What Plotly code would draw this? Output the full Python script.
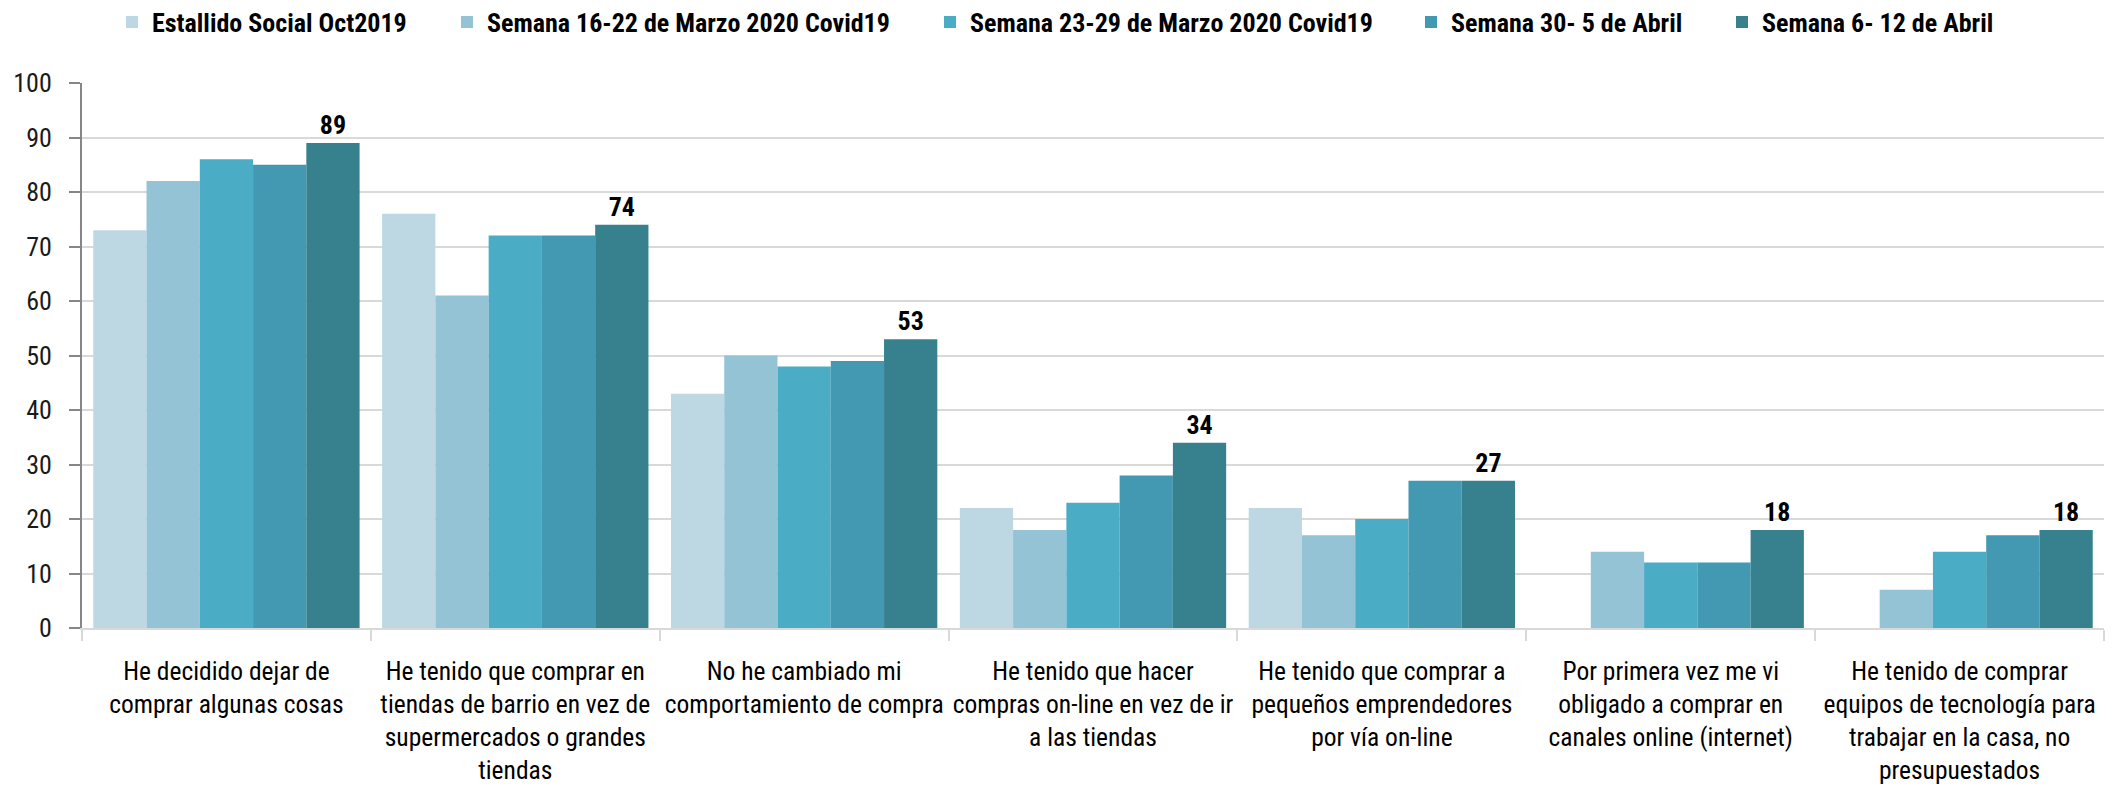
import plotly.graph_objects as go

categories = [
    "He decidido dejar de<br>comprar algunas cosas",
    "He tenido que comprar en<br>tiendas de barrio en vez de<br>supermercados o grandes<br>tiendas",
    "No he cambiado mi<br>comportamiento de compra",
    "He tenido que hacer<br>compras on-line en vez de ir<br>a las tiendas",
    "He tenido que comprar a<br>pequeños emprendedores<br>por vía on-line",
    "Por primera vez me vi<br>obligado a comprar en<br>canales online (internet)",
    "He tenido de comprar<br>equipos de tecnología para<br>trabajar en la casa, no<br>presupuestados",
]

series_names = [
    "Estallido Social Oct2019",
    "Semana 16-22 de Marzo 2020 Covid19",
    "Semana 23-29 de Marzo 2020 Covid19",
    "Semana 30- 5 de Abril",
    "Semana 6- 12 de Abril",
]

estallido = [73, 76, 43, 22, 22, None, None]
semana_16_22 = [82, 61, 50, 18, 17, 14, 7]
semana_23_29 = [86, 72, 48, 23, 20, 12, 14]
semana_30_5 = [85, 72, 49, 28, 27, 12, 17]
semana_6_12 = [89, 74, 53, 34, 27, 18, 18]

series_values = [estallido, semana_16_22, semana_23_29, semana_30_5, semana_6_12]
colors = ["#BDD8E3", "#94C3D5", "#4BACC6", "#4399B1", "#37818F"]
legend_ids = ["legend", "legend2", "legend3", "legend4", "legend5"]
legend_x = [104, 439, 922, 1403, 1714]  # legend box left, figure px

FONT = "Roboto Condensed, Liberation Sans Narrow, DejaVu Sans Condensed, sans-serif"
# page body has an 8px margin, so the figure is 8px smaller than the window
W, H = 2106, 800

fig = go.Figure()
for i, (name, vals, col) in enumerate(zip(series_names, series_values, colors)):
    last = i == len(series_names) - 1
    fig.add_trace(go.Bar(
        x=categories, y=vals, name=name,
        marker=dict(color=col, line=dict(width=0)),
        legend=legend_ids[i], showlegend=True,
        text=[str(v) for v in vals] if last else None,
        textposition="outside" if last else None,
        textfont=dict(family=FONT, size=26, color="#000000", weight="bold"),
        cliponaxis=False,
    ))

layout_legends = {}
for i, lid in enumerate(legend_ids):
    layout_legends[lid] = dict(
        x=legend_x[i] / W, xref="container", xanchor="left",
        y=1 - 14 / H, yref="container", yanchor="middle",
        orientation="h", bgcolor="rgba(0,0,0,0)", borderwidth=0,
        font=dict(family=FONT, size=26, color="#000000", weight="bold"),
        itemclick=False,
    )

fig.update_layout(
    width=W, height=H,
    showlegend=True,
    margin=dict(l=74, r=10, t=75, b=180, autoexpand=False),
    paper_bgcolor="white", plot_bgcolor="white",
    barmode="group", bargap=0.078, bargroupgap=0,
    font=dict(family=FONT, size=26, color="#1a1a1a"),
    **layout_legends,
)

fig.update_yaxes(
    range=[0, 100], dtick=10, tick0=0,
    showgrid=True, gridcolor="#D9D9D9", gridwidth=2,
    showline=True, linecolor="#868686", linewidth=2,
    ticks="outside", ticklen=11, tickcolor="#868686", tickwidth=2,
    tickfont=dict(family=FONT, size=26, color="#1a1a1a"),
    ticklabelstandoff=12,
    zeroline=False,
)
fig.update_xaxes(
    showline=True, linecolor="#D9D9D9", linewidth=2,
    ticks="outside", ticklen=11, tickcolor="#D9D9D9", tickwidth=2,
    tickson="boundaries",
    tickfont=dict(family=FONT, size=25.5, color="#000000"),
    tickangle=0,
    ticklabelstandoff=19,
)

fig.write_html("out.html")
